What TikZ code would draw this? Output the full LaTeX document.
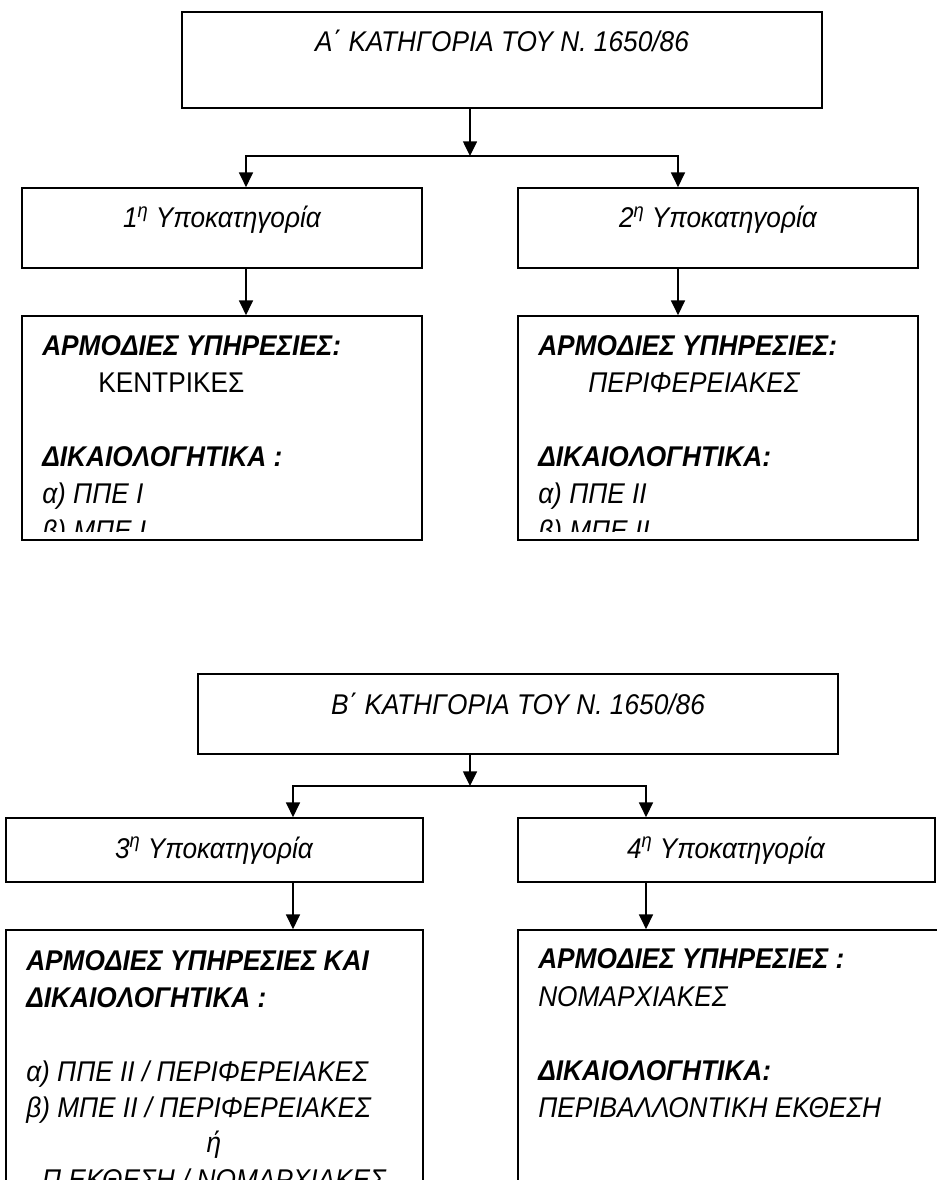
\documentclass[tikz,border=0pt]{standalone}
\usepackage{fontspec}
\setmainfont{Liberation Sans}[FakeStretch=0.92]
\usetikzlibrary{arrows.meta,fit}
\newcommand\diafont{\fontsize{21.4pt}{27.75pt}\selectfont}
\begin{document}
\begin{tikzpicture}[x=0.75pt,y=-0.75pt,
  box/.style={draw, line width=1.3pt, inner sep=0pt},
  conn/.style={line width=1.1pt},
  arr/.style={conn, -{Triangle[width=10.5pt,length=11pt]}},
  txt/.style={inner sep=0pt, font=\diafont},
  ln/.style={txt, anchor=base west},
  ttl/.style={txt, anchor=base},
  hd/.style={font=\diafont\bfseries\itshape},
  it/.style={font=\diafont\itshape}]
\useasboundingbox (0,0) rectangle (937,1180);
\clip (0,0) rectangle (937,1180);
\fill[white] (0,0) rectangle (937,1180);

% ---------- Part A ----------
\node[box, fit={(182,12) (822,108)}] (A) {};
\node[ttl, it] (At) at (502,52) {Α΄ ΚΑΤΗΓΟΡΙΑ ΤΟΥ Ν. 1650/86};

\node[box, fit={(22,188) (422,268)}] (b1) {};
\node[ttl, it] (b1t) at (222,228) {1\textsuperscript{η} Υποκατηγορία};
\node[box, fit={(518,188) (918,268)}] (b2) {};
\node[ttl, it] (b2t) at (718,228) {2\textsuperscript{η} Υποκατηγορία};

\node[box, fit={(22,316) (422,540)}] (b3) {};
\node[box, fit={(518,316) (918,540)}] (b4) {};

\coordinate (jA) at (470,156);
\coordinate (xA1) at (246,156);
\coordinate (xA2) at (678,156);
\draw[arr] (A.south -| jA) -- (jA);
\draw[arr] (jA) -| (b1.north -| xA1);
\draw[arr] (jA) -| (b2.north -| xA2);
\draw[arr] (b1.south -| xA1) -- (b3.north -| xA1);
\draw[arr] (b2.south -| xA2) -- (b4.north -| xA2);

\begin{scope}
\clip (22,316) rectangle (422,531);
\node[ln, hd] (b3l1) at (42,355) {ΑΡΜΟΔΙΕΣ ΥΠΗΡΕΣΙΕΣ:};
\node[ln] (b3l2) at (98,392) {ΚΕΝΤΡΙΚΕΣ};
\node[ln, hd] (b3l3) at (42,466) {ΔΙΚΑΙΟΛΟΓΗΤΙΚΑ :};
\node[ln, it] (b3l4) at (42,503) {α) ΠΠΕ Ι};
\node[ln, it] (b3l5) at (42,540) {β) ΜΠΕ Ι};
\end{scope}

\begin{scope}
\clip (518,316) rectangle (918,531);
\node[ln, hd] (b4l1) at (538,355) {ΑΡΜΟΔΙΕΣ ΥΠΗΡΕΣΙΕΣ:};
\node[ln, it] (b4l2) at (588,392) {ΠΕΡΙΦΕΡΕΙΑΚΕΣ};
\node[ln, hd] (b4l3) at (538,466) {ΔΙΚΑΙΟΛΟΓΗΤΙΚΑ:};
\node[ln, it] (b4l4) at (538,503) {α) ΠΠΕ ΙΙ};
\node[ln, it] (b4l5) at (538,540) {β) ΜΠΕ ΙΙ};
\end{scope}

% ---------- Part B ----------
\node[box, fit={(198,674) (838,754)}] (B) {};
\node[ttl, it] (Bt) at (518,714) {Β΄ ΚΑΤΗΓΟΡΙΑ ΤΟΥ Ν. 1650/86};

\node[box, fit={(6,818) (423,882)}] (c1) {};
\node[ttl, it] (c1t) at (214,858) {3\textsuperscript{η} Υποκατηγορία};
\node[box, fit={(518,818) (935,882)}] (c2) {};
\node[ttl, it] (c2t) at (726,858) {4\textsuperscript{η} Υποκατηγορία};

\node[box, fit={(6,930) (423,1210)}] (c3) {};
\node[box, fit={(518,930) (950,1210)}] (c4) {};

\coordinate (jB) at (470,786);
\coordinate (xB1) at (293,786);
\coordinate (xB2) at (646,786);
\draw[arr] (B.south -| jB) -- (jB);
\draw[arr] (jB) -| (c1.north -| xB1);
\draw[arr] (jB) -| (c2.north -| xB2);
\draw[arr] (c1.south -| xB1) -- (c3.north -| xB1);
\draw[arr] (c2.south -| xB2) -- (c4.north -| xB2);

\node[ln, hd] (c3l1) at (26,970) {ΑΡΜΟΔΙΕΣ ΥΠΗΡΕΣΙΕΣ ΚΑΙ};
\node[ln, hd] (c3l2) at (26,1007) {ΔΙΚΑΙΟΛΟΓΗΤΙΚΑ :};
\node[ln, it] (c3l3) at (26,1081) {α) ΠΠΕ ΙΙ / ΠΕΡΙΦΕΡΕΙΑΚΕΣ};
\node[ln, it] (c3l4) at (26,1117) {β) ΜΠΕ ΙΙ / ΠΕΡΙΦΕΡΕΙΑΚΕΣ};
\node[ttl, it] (c3l5) at (214,1152) {ή};
\node[ttl, it] (c3l6) at (214,1189) {Π.ΕΚΘΕΣΗ / ΝΟΜΑΡΧΙΑΚΕΣ};

\node[ln, hd] (c4l1) at (538,968) {ΑΡΜΟΔΙΕΣ ΥΠΗΡΕΣΙΕΣ :};
\node[ln, it] (c4l2) at (538,1006) {ΝΟΜΑΡΧΙΑΚΕΣ};
\node[ln, hd] (c4l3) at (538,1080) {ΔΙΚΑΙΟΛΟΓΗΤΙΚΑ:};
\node[ln, it] (c4l4) at (538,1117) {ΠΕΡΙΒΑΛΛΟΝΤΙΚΗ ΕΚΘΕΣΗ};
\end{tikzpicture}
\end{document}
